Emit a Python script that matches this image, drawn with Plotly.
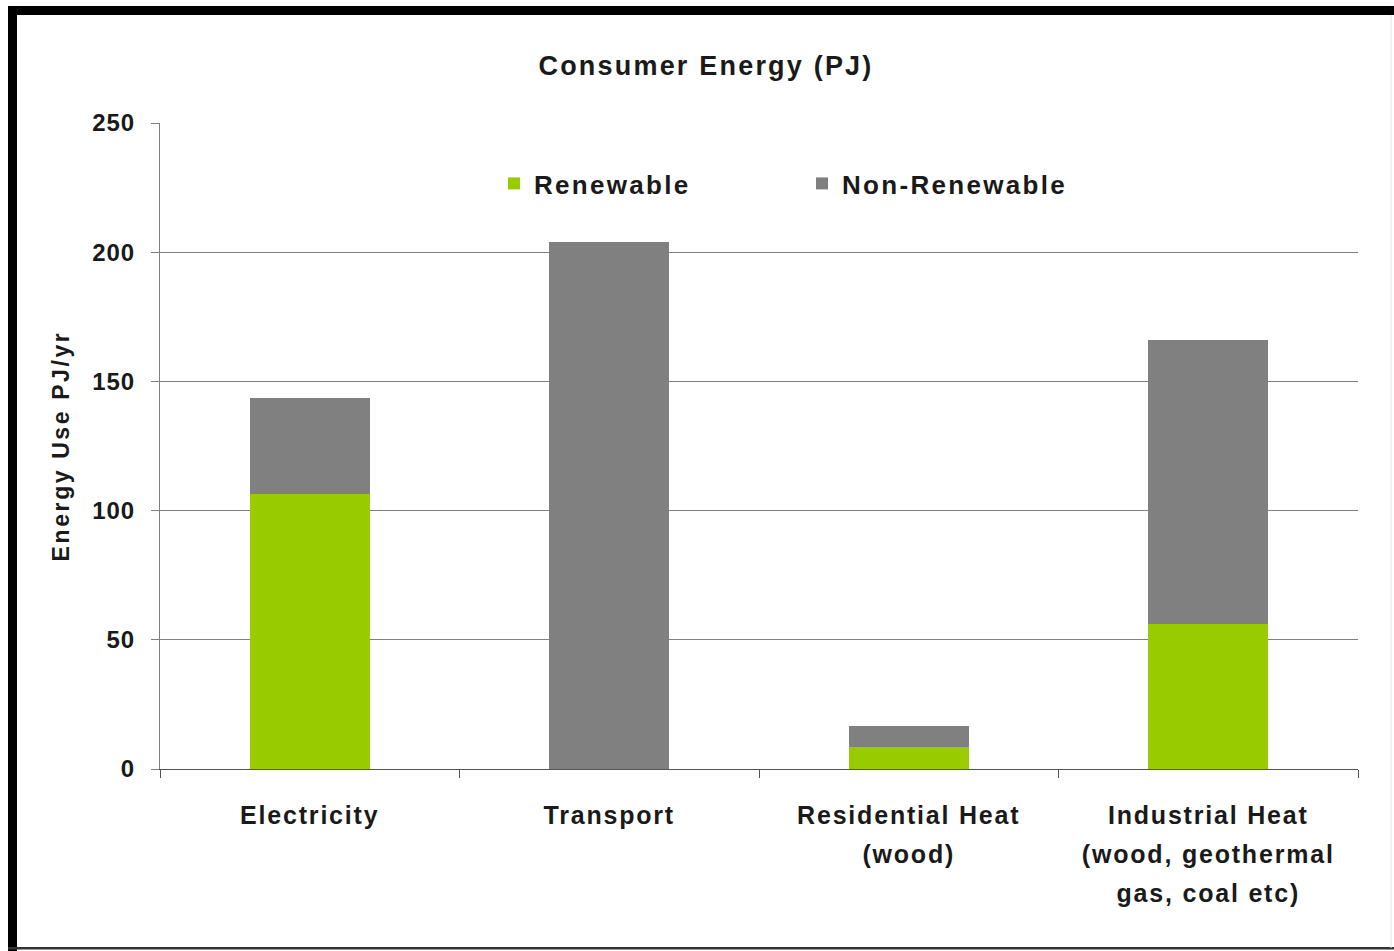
import plotly.graph_objects as go

# ---- data ----
categories = ["Electricity", "Transport", "Residential Heat", "Industrial Heat"]
category_labels = [
    ["Electricity"],
    ["Transport"],
    ["Residential Heat", "(wood)"],
    ["Industrial Heat", "(wood, geothermal", "gas, coal etc)"],
]
renewable = [106.4, 0.0, 8.5, 56.1]
non_renewable = [37.2, 203.9, 8.1, 109.9]
y_ticks = [0, 50, 100, 150, 200, 250]

# ---- layout helpers ----
W, H = 1394, 951
L, R, T, B = 160, 36, 123, 182
PW, PH = W - L - R, H - T - B

def px(x):
    return (x - L) / PW

def py(y):
    return (H - B - y) / PH

FONT = "Liberation Sans, Arial, sans-serif"

def spaced(text, size, ls):
    return f"<span style='font-size:{size}px;letter-spacing:{ls}px;font-weight:bold'>{text}</span>"

GREEN = "#99CC00"
GREY = "#808080"

fig = go.Figure()
fig.add_trace(go.Bar(
    x=categories, y=renewable, name=spaced("Renewable", 26, 2.3),
    marker=dict(color=GREEN, line=dict(width=0)),
))
fig.add_trace(go.Bar(
    x=categories, y=non_renewable, name=spaced("Non-Renewable", 26, 2.3),
    marker=dict(color=GREY, line=dict(width=0)),
))

ticktext_x = ["<br>".join(spaced(s, 25, 1.8) for s in lines) for lines in category_labels]

shapes = [
    # black frame (top and left bands, thin bottom line)
    dict(type="rect", xref="paper", yref="paper", x0=px(8), x1=px(W + 5), y0=py(6), y1=py(15),
         fillcolor="black", line=dict(width=0), layer="above"),
    dict(type="rect", xref="paper", yref="paper", x0=px(8), x1=px(17), y0=py(6), y1=py(H + 5),
         fillcolor="black", line=dict(width=0), layer="above"),
    dict(type="rect", xref="paper", yref="paper", x0=px(8), x1=px(W + 5), y0=py(947), y1=py(949.5),
         fillcolor="#333333", line=dict(width=0), layer="above"),
    dict(type="line", xref="paper", yref="paper", x0=px(1391), x1=px(1391), y0=py(15), y1=py(948),
         line=dict(color="#e6e6e6", width=1), layer="above"),
]

fig.update_layout(
    width=W, height=H,
    margin=dict(l=L, r=R, t=T, b=B, autoexpand=False),
    paper_bgcolor="white", plot_bgcolor="white",
    barmode="stack", bargap=0.6,
    font=dict(family=FONT, color="#1a1a1a", weight="bold"),
    title=dict(
        text=spaced("Consumer Energy (PJ)", 27, 2.2),
        x=706 / W, xanchor="center", xref="container",
        y=1 - 66 / H, yanchor="middle", yref="container",
        font=dict(family=FONT, size=27, color="#1a1a1a", weight="bold"),
    ),
    legend=dict(
        orientation="h", x=px(494), xanchor="left", y=py(160), yanchor="top",
        font=dict(family=FONT, size=26, color="#1a1a1a", weight="bold"),
        entrywidth=263, entrywidthmode="pixels",
        bgcolor="rgba(0,0,0,0)", traceorder="normal",
    ),
    xaxis=dict(
        type="category",
        tickmode="array", tickvals=categories, ticktext=ticktext_x,
        tickfont=dict(family=FONT, size=30, color="#1a1a1a", weight="bold"),
        ticks="outside", tickson="boundaries", ticklen=8, tickcolor="#555555", tickwidth=1,
        showline=True, linecolor="#555555", linewidth=1,
        showgrid=False, zeroline=False, fixedrange=True,
        ticklabelstandoff=18,
    ),
    yaxis=dict(
        range=[0, 250],
        tickmode="array", tickvals=y_ticks, ticktext=[spaced(str(v), 24, 1) for v in y_ticks],
        tickfont=dict(family=FONT, size=24, color="#1a1a1a", weight="bold"),
        ticks="outside", ticklen=8, tickcolor="#808080", tickwidth=1,
        showline=True, linecolor="#808080", linewidth=1,
        showgrid=True, gridcolor="#808080", gridwidth=1,
        zeroline=False, fixedrange=True,
        ticklabelstandoff=11,
        title=dict(
            text=spaced("Energy Use PJ/yr", 23, 2.6),
            font=dict(family=FONT, size=23, color="#1a1a1a", weight="bold"),
            standoff=16,
        ),
    ),
    shapes=shapes,
    showlegend=True,
)

fig.write_html("out.html")
